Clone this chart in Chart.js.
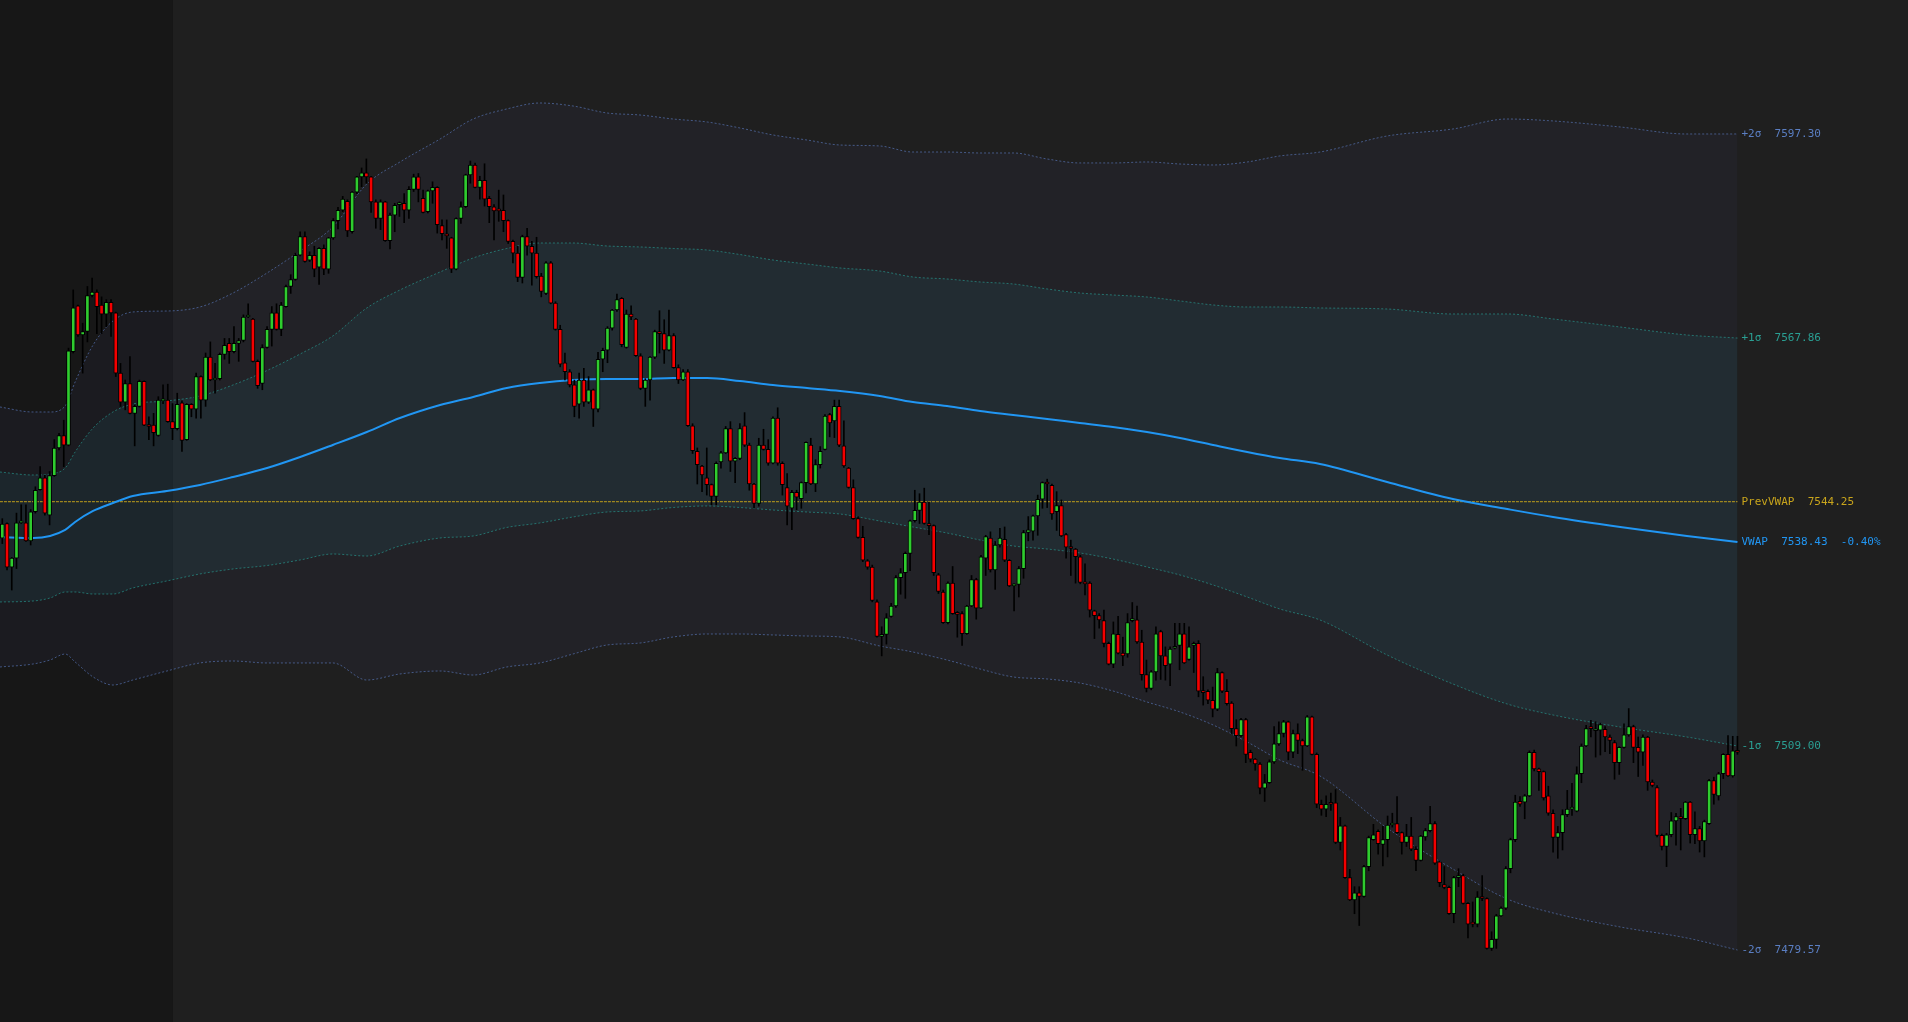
<!DOCTYPE html>
<html><head><meta charset="utf-8">
<script src="https://cdn.jsdelivr.net/npm/chart.js@4.4.1/dist/chart.umd.min.js"></script>
<style>html,body{margin:0;padding:0;background:#1f1f1f;overflow:hidden}canvas{display:block}</style>
</head><body>
<canvas id="c" width="1908" height="1022"></canvas>
<script>
const opens = [
7539.0,7541.1,7534.8,7536.1,7541.2,7541.2,7538.6,7542.8,7546.0,7547.7,
7542.3,7548.0,7552.0,7553.8,7552.4,7565.9,7572.5,7568.3,7568.8,7574.0,
7574.5,7572.6,7571.3,7573.0,7571.5,7562.8,7558.6,7561.3,7557.0,7558.0,
7561.6,7555.3,7555.3,7553.8,7558.8,7558.9,7555.8,7554.8,7558.5,7553.2,
7558.3,7557.6,7562.3,7558.9,7565.1,7561.8,7562.0,7565.5,7567.1,7565.9,
7567.1,7567.5,7570.9,7570.6,7564.5,7561.3,7566.5,7569.1,7571.5,7569.1,
7572.4,7575.3,7576.3,7579.8,7582.5,7579.1,7579.8,7578.1,7580.8,7577.8,
7582.3,7584.8,7586.3,7587.6,7583.2,7588.9,7591.1,7591.7,7591.1,7587.5,
7585.1,7587.5,7581.9,7585.6,7587.1,7587.3,7586.3,7589.3,7591.1,7588.0,
7586.1,7589.1,7589.6,7584.1,7582.8,7582.3,7577.8,7585.1,7586.8,7591.4,
7592.8,7589.6,7590.6,7588.0,7586.8,7586.3,7586.3,7584.8,7581.8,7580.1,
7576.6,7582.5,7581.1,7580.1,7576.8,7574.3,7578.7,7572.9,7569.1,7564.3,
7563.0,7561.1,7558.3,7561.8,7558.6,7560.4,7557.6,7564.8,7566.1,7569.3,
7571.9,7573.6,7566.5,7571.3,7570.6,7565.3,7560.6,7561.8,7565.1,7568.8,
7568.5,7566.1,7568.2,7563.6,7561.8,7563.0,7555.2,7551.5,7549.4,7547.7,
7546.7,7545.0,7550.0,7551.3,7554.8,7550.1,7550.5,7555.2,7552.4,7546.8,
7544.0,7552.4,7551.8,7549.8,7556.3,7549.8,7546.3,7543.3,7545.6,7544.7,
7547.0,7552.4,7546.8,7549.6,7551.8,7556.8,7555.9,7558.0,7552.3,7549.1,
7546.3,7541.8,7539.1,7535.7,7534.8,7529.8,7524.8,7525.1,7527.7,7529.2,
7533.3,7534.0,7536.8,7541.5,7543.0,7544.2,7541.1,7540.8,7533.7,7531.2,
7526.8,7532.5,7528.1,7528.1,7525.2,7529.2,7533.0,7528.9,7536.1,7539.0,
7534.4,7538.0,7538.8,7535.8,7532.1,7532.3,7534.6,7539.8,7540.0,7542.2,
7544.6,7547.0,7546.6,7542.8,7543.7,7539.5,7537.7,7537.4,7536.3,7532.6,
7532.5,7528.5,7527.8,7527.1,7523.8,7520.8,7525.1,7522.4,7522.3,7527.1,
7527.2,7524.0,7519.3,7517.3,7519.7,7525.5,7522.0,7520.8,7523.1,7523.5,
7525.2,7521.5,7523.5,7523.8,7516.9,7516.9,7515.6,7514.3,7519.6,7516.9,
7515.2,7511.5,7510.5,7512.8,7508.1,7507.1,7506.4,7502.9,7503.7,7506.7,
7509.3,7510.8,7512.5,7508.1,7510.8,7509.8,7509.0,7513.2,7507.8,7500.6,
7499.9,7500.7,7500.8,7495.1,7497.5,7490.0,7486.8,7487.8,7487.3,7491.6,
7495.5,7496.7,7494.8,7495.5,7497.6,7497.8,7496.5,7495.1,7496.0,7494.1,
7492.5,7495.9,7496.8,7497.8,7492.3,7489.0,7488.6,7484.8,7490.0,7490.3,
7486.3,7483.4,7483.3,7487.2,7487.0,7479.8,7481.1,7484.5,7485.6,7491.3,
7495.5,7501.0,7500.9,7501.8,7508.1,7505.7,7505.3,7501.8,7499.3,7495.8,
7496.5,7499.1,7499.9,7499.6,7505.0,7509.0,7511.8,7511.2,7511.3,7511.4,
7510.3,7509.5,7506.6,7508.8,7510.6,7511.8,7508.8,7508.1,7510.3,7503.8,
7503.0,7496.1,7494.5,7496.2,7498.2,7498.8,7498.5,7500.9,7496.2,7497.1,
7495.3,7497.8,7504.0,7501.8,7505.0,7507.8,7504.7,7508.3];
const highs = [
7541.8,7541.2,7536.2,7542.6,7543.8,7543.8,7543.1,7546.4,7549.3,7548.1,
7548.6,7553.2,7554.1,7556.0,7566.4,7574.8,7572.6,7570.0,7575.3,7576.5,
7574.8,7573.8,7573.4,7573.4,7571.6,7564.2,7561.8,7565.2,7558.2,7561.8,
7561.7,7556.5,7557.0,7559.4,7561.1,7561.2,7558.4,7559.9,7558.8,7558.4,
7558.4,7562.8,7562.4,7565.7,7567.3,7564.2,7565.7,7567.8,7567.8,7569.5,
7567.8,7571.2,7572.8,7570.7,7564.7,7566.9,7569.5,7572.4,7572.8,7573.0,
7575.5,7577.0,7580.1,7583.2,7583.2,7580.3,7581.1,7580.9,7581.3,7582.4,
7585.1,7586.7,7588.3,7587.8,7589.0,7591.2,7592.4,7593.7,7591.2,7587.8,
7587.8,7587.6,7585.9,7587.3,7587.5,7588.7,7589.7,7591.5,7591.6,7589.2,
7589.2,7590.4,7589.7,7584.9,7584.9,7582.4,7585.2,7587.5,7591.5,7593.4,
7593.1,7591.2,7593.0,7588.3,7587.1,7589.2,7588.5,7584.9,7582.0,7581.1,
7582.7,7583.7,7581.8,7582.4,7577.2,7578.9,7578.9,7573.1,7569.7,7565.7,
7563.3,7561.8,7562.8,7563.5,7562.3,7560.5,7565.8,7566.4,7569.5,7572.0,
7574.2,7573.7,7571.9,7572.5,7570.7,7565.6,7562.0,7565.2,7569.0,7571.8,
7570.5,7571.9,7568.5,7564.0,7563.3,7563.3,7555.5,7552.0,7549.5,7552.0,
7546.8,7550.0,7551.5,7555.1,7555.8,7550.6,7555.5,7557.1,7552.7,7546.9,
7553.4,7554.7,7553.2,7556.5,7557.8,7550.0,7548.3,7545.9,7545.9,7547.1,
7552.9,7553.4,7550.3,7552.2,7556.8,7557.0,7558.9,7558.9,7555.9,7549.2,
7547.4,7542.1,7540.7,7535.9,7535.1,7530.1,7526.2,7528.1,7529.6,7533.6,
7534.6,7537.0,7541.6,7545.9,7545.4,7546.2,7544.2,7540.9,7533.9,7531.5,
7532.7,7534.9,7528.4,7528.4,7529.3,7533.6,7533.2,7536.5,7539.4,7539.9,
7538.5,7540.4,7540.6,7535.9,7532.4,7534.9,7540.1,7542.1,7542.3,7545.2,
7547.1,7547.5,7546.8,7545.7,7544.5,7539.7,7538.7,7537.5,7536.5,7535.3,
7532.7,7528.6,7528.1,7528.6,7524.0,7526.9,7527.7,7524.7,7528.1,7529.7,
7529.2,7525.7,7521.4,7519.9,7526.2,7525.7,7523.3,7523.3,7526.7,7526.7,
7526.7,7526.2,7524.0,7524.2,7519.0,7517.1,7517.5,7520.2,7519.7,7518.6,
7515.4,7512.8,7513.0,7513.0,7508.4,7507.2,7506.6,7504.9,7507.0,7511.8,
7512.5,7512.7,7512.6,7511.3,7512.2,7510.0,7513.4,7513.3,7508.0,7501.2,
7501.8,7502.2,7502.7,7498.7,7497.6,7491.2,7488.7,7488.7,7491.8,7496.0,
7497.7,7496.9,7497.4,7498.9,7499.3,7501.7,7496.6,7497.7,7498.7,7494.5,
7496.1,7497.1,7500.3,7498.1,7492.4,7491.6,7488.8,7490.2,7491.3,7490.5,
7486.4,7486.5,7488.0,7490.3,7487.1,7482.2,7484.7,7485.8,7491.6,7495.7,
7501.9,7501.7,7502.0,7508.3,7508.4,7505.8,7505.4,7503.2,7499.8,7497.4,
7499.8,7502.6,7503.6,7506.0,7509.3,7512.0,7512.7,7512.5,7512.3,7511.8,
7510.6,7509.8,7508.9,7512.2,7514.4,7512.0,7510.3,7510.6,7510.4,7504.1,
7503.3,7496.3,7496.4,7499.4,7499.3,7500.0,7501.0,7501.0,7499.5,7497.4,
7498.3,7504.2,7504.5,7505.2,7507.9,7510.5,7510.4,7510.4];
const lows = [
7538.2,7534.4,7531.5,7534.6,7541.1,7538.5,7538.0,7542.6,7545.9,7542.3,
7540.9,7547.9,7551.7,7549.3,7552.3,7565.7,7568.1,7562.8,7567.3,7573.8,
7568.5,7568.5,7569.5,7568.1,7562.3,7558.0,7557.5,7556.9,7552.3,7557.9,
7555.2,7553.2,7552.3,7553.7,7558.4,7555.7,7553.2,7554.6,7551.5,7553.1,
7556.5,7556.3,7556.3,7558.0,7561.7,7559.9,7561.8,7564.8,7564.2,7565.7,
7564.5,7567.3,7570.8,7564.4,7560.6,7560.4,7566.4,7566.7,7569.0,7568.2,
7572.3,7574.3,7576.2,7579.7,7578.8,7578.9,7576.7,7575.6,7577.0,7577.2,
7582.1,7583.6,7586.1,7582.5,7583.0,7588.7,7589.7,7590.2,7586.0,7583.7,
7583.5,7581.8,7580.7,7583.2,7585.4,7584.5,7585.1,7589.0,7587.5,7585.9,
7585.9,7587.3,7583.0,7582.0,7580.8,7577.3,7577.7,7584.4,7586.7,7590.2,
7589.5,7587.9,7586.9,7584.5,7582.0,7584.7,7583.2,7581.5,7578.7,7576.0,
7575.8,7579.8,7575.5,7576.5,7573.8,7574.1,7572.8,7569.0,7563.7,7561.8,
7560.8,7556.5,7556.3,7558.0,7558.4,7555.1,7557.2,7563.0,7564.3,7569.0,
7571.7,7566.6,7566.4,7570.5,7565.2,7560.4,7558.0,7558.9,7564.9,7565.7,
7564.2,7566.0,7563.5,7561.3,7561.7,7555.1,7551.2,7546.8,7545.7,7545.2,
7543.8,7543.8,7549.1,7551.2,7548.6,7547.0,7550.3,7552.2,7545.9,7543.3,
7543.6,7551.7,7549.5,7549.7,7549.5,7545.2,7540.9,7540.2,7543.1,7543.3,
7545.5,7546.7,7545.7,7549.1,7551.7,7553.6,7553.5,7552.2,7549.2,7546.2,
7541.7,7539.0,7535.6,7534.5,7529.8,7524.7,7522.0,7523.7,7527.6,7529.0,
7530.9,7530.3,7534.3,7541.3,7541.1,7541.0,7539.5,7533.6,7531.0,7526.7,
7526.6,7528.0,7524.7,7523.5,7525.1,7529.1,7527.3,7528.8,7533.6,7534.1,
7531.6,7537.7,7535.6,7532.0,7528.5,7530.5,7533.2,7538.6,7538.7,7539.4,
7543.3,7543.4,7541.7,7540.1,7539.2,7536.1,7533.6,7532.5,7532.4,7530.8,
7527.6,7524.5,7526.0,7523.3,7520.7,7520.3,7522.3,7520.6,7521.8,7526.9,
7523.8,7518.5,7516.8,7517.1,7518.5,7518.6,7518.5,7517.7,7523.0,7520.0,
7520.9,7521.4,7519.6,7516.1,7514.9,7515.1,7513.2,7514.1,7516.7,7514.9,
7510.8,7509.0,7510.3,7506.6,7506.7,7505.5,7502.1,7501.0,7503.6,7506.5,
7509.1,7510.3,7507.0,7507.3,7507.9,7505.5,7508.9,7507.7,7500.1,7499.0,
7498.8,7499.7,7494.9,7494.0,7489.9,7486.7,7484.8,7483.1,7487.2,7491.0,
7495.4,7493.4,7491.7,7493.0,7497.3,7496.4,7493.4,7494.5,7493.9,7491.0,
7492.4,7495.4,7496.6,7491.9,7488.7,7488.4,7484.7,7483.5,7488.7,7486.2,
7481.3,7482.9,7482.9,7486.7,7479.7,7479.5,7479.8,7484.4,7485.4,7490.7,
7495.2,7500.3,7498.5,7501.7,7505.4,7502.6,7501.2,7499.0,7493.7,7492.8,
7494.0,7498.8,7499.0,7499.5,7503.7,7508.9,7510.3,7507.4,7507.7,7508.2,
7507.9,7504.2,7504.9,7508.7,7510.4,7506.6,7504.6,7506.2,7502.6,7503.1,
7495.9,7494.0,7491.6,7495.9,7494.7,7494.0,7498.4,7495.0,7494.9,7493.7,
7493.0,7497.7,7500.6,7501.2,7504.3,7504.6,7504.5,7507.8];
const closes = [
7541.0,7534.8,7536.1,7541.2,7541.5,7538.6,7542.8,7545.9,7547.7,7542.6,
7548.0,7552.0,7553.8,7552.4,7566.0,7572.2,7568.3,7568.8,7574.0,7574.5,
7572.4,7571.3,7573.0,7571.5,7562.8,7558.6,7561.3,7557.0,7558.0,7561.6,
7555.3,7555.1,7554.2,7558.9,7559.0,7555.8,7554.8,7558.3,7553.1,7558.3,
7557.6,7562.3,7558.9,7565.1,7561.8,7562.0,7565.5,7566.8,7565.9,7567.1,
7567.5,7570.9,7571.1,7564.5,7561.0,7566.5,7569.1,7571.5,7569.1,7572.6,
7575.3,7576.3,7579.8,7582.5,7578.9,7579.8,7577.8,7580.8,7577.8,7582.3,
7584.8,7586.3,7587.9,7583.3,7588.9,7591.1,7591.7,7591.1,7587.5,7585.1,
7587.5,7581.9,7585.6,7587.0,7587.3,7586.3,7589.3,7591.1,7589.3,7586.0,
7589.1,7589.6,7584.2,7582.9,7582.6,7577.8,7585.1,7586.8,7591.4,7592.8,
7589.6,7590.6,7587.9,7586.8,7586.2,7586.2,7584.8,7581.8,7580.1,7576.6,
7582.5,7581.1,7580.1,7576.7,7574.6,7578.7,7572.9,7569.1,7564.1,7563.0,
7561.1,7558.0,7561.8,7558.6,7560.4,7557.6,7564.8,7566.1,7569.3,7571.9,
7573.4,7566.9,7571.3,7570.9,7565.3,7560.6,7561.8,7565.1,7568.8,7568.5,
7566.1,7568.2,7563.6,7561.8,7563.0,7555.2,7551.6,7549.6,7548.1,7546.7,
7545.0,7549.8,7551.3,7554.8,7550.1,7550.5,7554.8,7552.4,7546.8,7544.0,
7552.4,7551.8,7549.8,7556.3,7549.8,7546.7,7543.6,7545.6,7544.9,7547.0,
7552.8,7546.8,7549.6,7551.5,7556.6,7555.6,7558.0,7552.4,7549.4,7546.3,
7541.8,7539.1,7535.8,7534.8,7530.0,7524.8,7525.1,7527.5,7529.2,7533.3,
7534.0,7536.8,7541.5,7543.0,7544.2,7541.1,7540.8,7534.0,7531.3,7526.8,
7532.5,7528.1,7528.0,7525.2,7529.2,7533.0,7528.9,7536.3,7539.2,7534.4,
7538.0,7539.0,7535.8,7532.1,7532.2,7534.6,7539.8,7540.2,7542.2,7544.6,
7547.0,7546.8,7542.5,7543.7,7539.3,7537.7,7537.5,7536.3,7532.6,7532.4,
7528.6,7527.8,7527.2,7523.8,7520.8,7525.2,7522.4,7522.0,7526.8,7527.2,
7524.0,7519.3,7517.3,7519.7,7525.2,7522.0,7520.6,7523.0,7523.3,7525.2,
7521.0,7523.3,7523.8,7516.9,7516.7,7515.6,7514.3,7519.6,7516.9,7515.1,
7511.5,7510.5,7512.8,7507.8,7507.1,7506.4,7502.9,7503.7,7506.7,7509.3,
7510.8,7512.5,7508.1,7510.8,7509.8,7509.0,7513.2,7507.8,7500.6,7499.9,
7500.6,7500.6,7495.1,7497.5,7490.0,7486.8,7487.8,7487.3,7491.6,7495.8,
7496.2,7494.9,7495.5,7497.6,7497.7,7496.5,7495.1,7496.0,7494.1,7492.5,
7496.0,7496.8,7497.8,7492.1,7489.3,7488.6,7484.8,7490.0,7490.1,7486.3,
7483.3,7483.3,7487.2,7487.0,7479.8,7481.1,7484.5,7485.6,7491.3,7495.5,
7500.9,7500.6,7501.8,7508.1,7505.7,7505.3,7501.5,7499.3,7495.8,7496.5,
7499.1,7499.9,7500.0,7505.0,7509.0,7511.5,7511.5,7511.4,7512.1,7510.3,
7509.8,7506.6,7508.8,7510.6,7511.8,7508.8,7508.1,7510.3,7503.8,7503.3,
7496.1,7494.5,7496.2,7498.2,7498.8,7498.5,7500.9,7496.2,7497.1,7495.3,
7498.1,7504.0,7502.0,7505.0,7507.8,7504.7,7508.3,7508.1];

// VWAP and band lines, sampled at candle positions (x = candle index)
const bandIdx = [-0.5,6.5,10.1,13.3,15.4,19.2,23.4,27.6,34.8,41.8,48.8,56.0,63.0,69.9,77.1,84.1,92.6,99.6,106.7,113.7,120.7,127.9,134.9,141.9,149.1,156.0,163.0,170.2,177.2,185.6,192.6,199.8,206.8,213.8,221.0,227.9,234.9,242.1,249.1,256.1,263.3,270.2,278.7,292.9,306.8,318.3,328.0,342.2,356.3,367];
const upper2 = [7557.91,7557.19,7557.19,7558.06,7561.52,7566.86,7570.32,7571.62,7571.76,7572.34,7574.36,7577.25,7580.42,7583.88,7590.09,7593.26,7596.58,7599.46,7600.91,7601.77,7601.34,7600.33,7600.04,7599.46,7599.03,7598.17,7597.16,7596.43,7595.71,7595.57,7594.70,7594.70,7594.56,7594.56,7593.69,7593.12,7593.12,7593.26,7592.97,7592.83,7593.26,7594.13,7594.70,7597.01,7598.02,7599.46,7599.18,7598.31,7597.30,7597.30];
const upper1 = [7548.53,7548.10,7548.24,7549.11,7551.42,7554.88,7557.19,7558.34,7558.78,7559.50,7561.09,7563.18,7565.56,7568.16,7572.20,7574.79,7577.39,7579.41,7580.78,7581.57,7581.57,7581.14,7581.00,7580.78,7580.56,7579.91,7579.12,7578.54,7577.97,7577.53,7576.67,7576.38,7575.95,7575.66,7574.94,7574.36,7574.07,7573.78,7573.21,7572.63,7572.34,7572.34,7572.20,7572.05,7571.33,7571.33,7570.61,7569.45,7568.30,7567.86];
const vwap = [7539.16,7539.01,7539.30,7540.17,7541.32,7542.91,7544.06,7545.07,7545.79,7546.66,7547.81,7549.11,7550.70,7552.43,7554.30,7556.32,7558.20,7559.35,7560.65,7561.37,7561.81,7561.95,7561.95,7562.10,7562.10,7561.66,7561.09,7560.65,7560.22,7559.50,7558.63,7558.06,7557.33,7556.76,7556.18,7555.60,7555.03,7554.30,7553.44,7552.43,7551.42,7550.55,7549.69,7547.09,7544.64,7543.19,7542.04,7540.60,7539.30,7538.43];
const lower1 = [7529.78,7529.92,7530.35,7531.22,7531.22,7530.93,7530.93,7531.80,7532.81,7533.82,7534.54,7535.04,7535.84,7536.70,7536.41,7537.86,7539.01,7539.30,7540.53,7541.18,7542.04,7542.76,7542.91,7543.41,7543.63,7543.41,7543.05,7542.76,7542.47,7541.46,7540.60,7539.73,7538.72,7537.86,7537.42,7536.85,7535.98,7534.83,7533.67,7532.23,7530.50,7528.77,7527.18,7522.13,7517.95,7515.06,7513.47,7511.74,7510.30,7509.00];
const lower2 = [7520.40,7520.83,7521.41,7522.27,7521.12,7518.96,7517.80,7518.52,7519.82,7520.98,7521.26,7520.98,7520.98,7520.98,7518.52,7519.39,7519.82,7519.24,7520.40,7520.98,7522.27,7523.57,7523.86,7524.73,7525.16,7525.16,7525.02,7524.87,7524.73,7523.43,7522.56,7521.41,7520.11,7518.96,7518.67,7518.09,7516.94,7515.35,7513.91,7512.03,7509.58,7506.98,7504.67,7497.17,7491.25,7486.93,7484.91,7482.89,7481.30,7479.57];
const prevVwap = 7544.25;
const vwapChange = '-0.40%';
const sessionStart = 36.1; // candle index where the current session begins

const Y_MIN = 7469.18, Y_MAX = 7616.63;
const X_MIN = -0.486, X_MAX = 403.07;

const idx = closes.map((_, i) => i);
const wickData = idx.map(i => ({x: i, y: [lows[i], highs[i]]}));
const bodyData = idx.map(i => ({x: i, y: [opens[i], closes[i]]}));
const bodyColors = idx.map(i => closes[i] >= opens[i] ? '#2fcc2f' : '#f40000');
const pts = arr => bandIdx.map((x, i) => ({x, y: arr[i]}));
const lastIdx = bandIdx[bandIdx.length - 1];

const C2 = 'rgba(92,124,196,0.62)', C1 = 'rgba(38,160,150,0.62)';
const lineBase = {type:'line', pointRadius:0, borderWidth:1, borderDash:[2,2], cubicInterpolationMode:'monotone'};

const bgPlugin = {
  id: 'bg',
  beforeDraw(chart) {
    const {ctx, width, height, scales:{x}} = chart;
    ctx.save();
    ctx.fillStyle = '#1f1f1f';
    ctx.fillRect(0, 0, width, height);
    ctx.fillStyle = '#171717';
    ctx.fillRect(0, 0, x.getPixelForValue(sessionStart), height);
    ctx.restore();
  }
};
const labelPlugin = {
  id: 'labels',
  afterDatasetsDraw(chart) {
    const {ctx, scales:{x, y}} = chart;
    const last = a => a[a.length - 1];
    const items = [
      ['+2σ  ' + last(upper2).toFixed(2), last(upper2), '#5a7ec2'],
      ['+1σ  ' + last(upper1).toFixed(2), last(upper1), '#2a9f93'],
      ['PrevVWAP  ' + prevVwap.toFixed(2), prevVwap, '#c9a51c'],
      ['VWAP  ' + last(vwap).toFixed(2) + '  ' + vwapChange, last(vwap), '#2196f3'],
      ['-1σ  ' + last(lower1).toFixed(2), last(lower1), '#2a9f93'],
      ['-2σ  ' + last(lower2).toFixed(2), last(lower2), '#5a7ec2']
    ];
    ctx.save();
    ctx.font = '11px "DejaVu Sans Mono", monospace';
    ctx.textBaseline = 'middle';
    ctx.textAlign = 'left';
    const px = x.getPixelForValue(lastIdx) + 4;
    items.forEach(([t, v, c]) => { ctx.fillStyle = c; ctx.fillText(t, px, y.getPixelForValue(v)); });
    ctx.restore();
  }
};

new Chart(document.getElementById('c'), {
  type: 'bar',
  data: {
    datasets: [
      Object.assign({}, lineBase, {label:'+2σ', data: pts(upper2), borderColor: C2, fill: {target: 1}, backgroundColor: 'rgba(80,86,150,0.075)', order: 10}),
      Object.assign({}, lineBase, {label:'-2σ', data: pts(lower2), borderColor: C2, fill: false, order: 9}),
      Object.assign({}, lineBase, {label:'+1σ', data: pts(upper1), borderColor: C1, fill: {target: 3}, backgroundColor: 'rgba(40,150,165,0.09)', order: 8}),
      Object.assign({}, lineBase, {label:'-1σ', data: pts(lower1), borderColor: C1, fill: false, order: 7}),
      {type:'line', label:'PrevVWAP', data: [{x: bandIdx[0], y: prevVwap}, {x: lastIdx, y: prevVwap}], borderColor: 'rgba(200,165,25,0.75)', borderWidth: 1.3, borderDash: [3,1], pointRadius: 0, fill: false, order: 6},
      {type:'line', label:'VWAP', data: pts(vwap), borderColor: '#2196f3', borderWidth: 2, pointRadius: 0, fill: false, cubicInterpolationMode:'monotone', order: 5},
      {type:'bar', label:'wicks', data: wickData, backgroundColor: '#000000', barThickness: 1, grouped: false, order: 2},
      {type:'bar', label:'bodies', data: bodyData, backgroundColor: bodyColors, borderColor: '#000000', borderWidth: 1, borderSkipped: false, barThickness: 4, minBarLength: 2, grouped: false, order: 1}
    ]
  },
  options: {
    responsive: false, animation: false, devicePixelRatio: 1,
    layout: {padding: 0},
    plugins: {legend: {display: false}, tooltip: {enabled: false}},
    scales: {
      x: {type: 'linear', min: X_MIN, max: X_MAX, offset: false, display: false},
      y: {type: 'linear', min: Y_MIN, max: Y_MAX, display: false}
    }
  },
  plugins: [bgPlugin, labelPlugin]
});
</script>
</body></html>
